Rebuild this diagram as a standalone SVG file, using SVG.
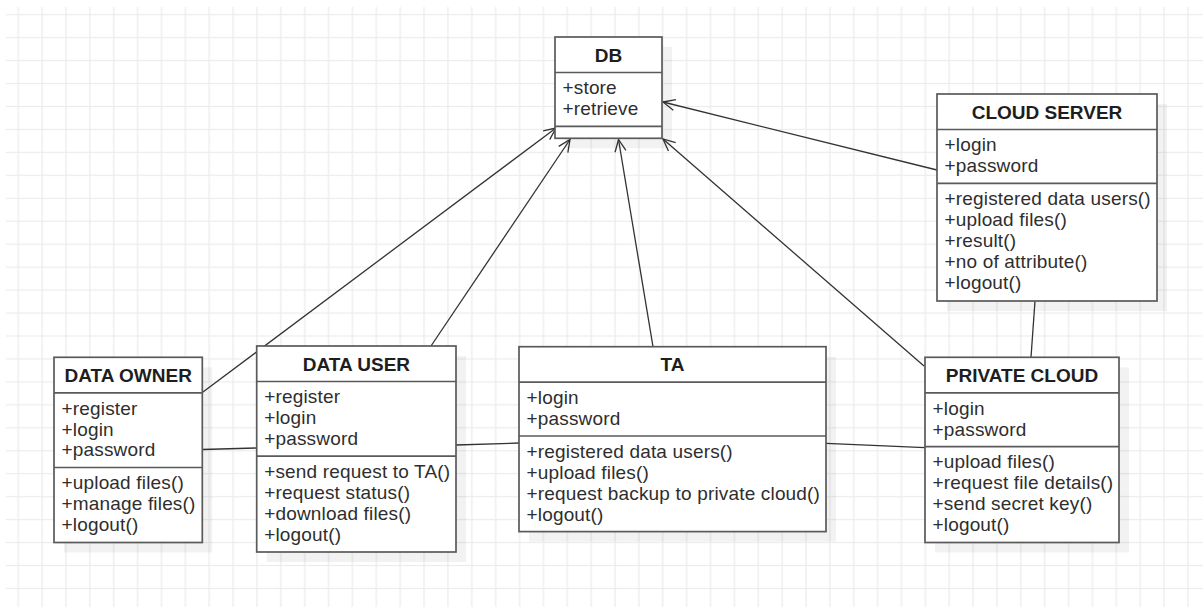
<svg xmlns="http://www.w3.org/2000/svg" width="1203" height="607" viewBox="0 0 1203 607">
<style>
.box{fill:#ffffff;stroke:#5a5a5a;stroke-width:1.7}
.shadow{fill:#000000;fill-opacity:0.05}
.div{stroke:#5a5a5a;stroke-width:1.7}
.t{font-family:"Liberation Sans",Arial,sans-serif;font-size:19px;fill:#2e2e2e;letter-spacing:0.17px}
.h{font-family:"Liberation Sans",Arial,sans-serif;font-size:19px;font-weight:bold;fill:#1e1e1e;text-anchor:middle}
.edge{stroke:#333333;stroke-width:1.3;fill:none}
</style>
<defs>
<pattern id="grid" patternUnits="userSpaceOnUse" x="6.365" y="3.225" width="23.87" height="22.95">
<line x1="11.935" y1="0" x2="11.935" y2="22.95" stroke="#ececec" stroke-width="1.3"/>
<line x1="0" y1="11.475" x2="23.87" y2="11.475" stroke="#ececec" stroke-width="1.3"/>
</pattern>
<marker id="open" markerUnits="userSpaceOnUse" markerWidth="16" markerHeight="16" viewBox="0 0 16 16" refX="14" refY="8" orient="auto">
<path d="M2,2.5 L14,8 L2,13.5" fill="none" stroke="#333333" stroke-width="1.3"/>
</marker>
</defs>
<rect x="0" y="0" width="1203" height="607" fill="#ffffff"/>
<rect x="6" y="7" width="1197" height="600" fill="url(#grid)"/>

<g id="connectors">
<line class="edge" x1="202.3" y1="392.5" x2="556" y2="128" marker-end="url(#open)"/>
<line class="edge" x1="431" y1="346" x2="570" y2="139.5" marker-end="url(#open)"/>
<line class="edge" x1="653" y1="346.7" x2="618.5" y2="139.5" marker-end="url(#open)"/>
<line class="edge" x1="924" y1="366" x2="663" y2="139" marker-end="url(#open)"/>
<line class="edge" x1="937" y1="170" x2="663" y2="102" marker-end="url(#open)"/>
<line class="edge" x1="1035" y1="301" x2="1031" y2="357.3"/>
<line class="edge" x1="202.3" y1="449.5" x2="256.7" y2="448"/>
<line class="edge" x1="456" y1="445" x2="519" y2="443"/>
<line class="edge" x1="826" y1="443.3" x2="925" y2="447.7"/>
</g>

<g id="db">
<rect class="shadow" x="565" y="47" width="107" height="101.3"/>
<rect class="box" x="555" y="37" width="107" height="101.3"/>
<line class="div" x1="555" y1="72.5" x2="662" y2="72.5"/>
<line class="div" x1="555" y1="126.3" x2="662" y2="126.3"/>
<text class="h" x="608.5" y="61.5">DB</text>
<text class="t" x="562.5" y="94.3">+store</text>
<text class="t" x="562.5" y="115.2">+retrieve</text>
</g>

<g id="cloud-server">
<rect class="shadow" x="947" y="104" width="220" height="207"/>
<rect class="box" x="937" y="94" width="220" height="207"/>
<line class="div" x1="937" y1="129.5" x2="1157" y2="129.5"/>
<line class="div" x1="937" y1="183.3" x2="1157" y2="183.3"/>
<text class="h" x="1047" y="118.5">CLOUD SERVER</text>
<text class="t" x="944.5" y="151.3">+login</text>
<text class="t" x="944.5" y="172.2">+password</text>
<text class="t" x="944.5" y="205.1">+registered data users()</text>
<text class="t" x="944.5" y="226">+upload files()</text>
<text class="t" x="944.5" y="246.9">+result()</text>
<text class="t" x="944.5" y="267.8">+no of attribute()</text>
<text class="t" x="944.5" y="288.7">+logout()</text>
</g>

<g id="data-owner">
<rect class="shadow" x="64" y="367.3" width="148.3" height="185.2"/>
<rect class="box" x="54" y="357.3" width="148.3" height="185.2"/>
<line class="div" x1="54" y1="392.8" x2="202.3" y2="392.8"/>
<line class="div" x1="54" y1="467.5" x2="202.3" y2="467.5"/>
<text class="h" x="128.2" y="381.8">DATA OWNER</text>
<text class="t" x="61.5" y="414.6">+register</text>
<text class="t" x="61.5" y="435.5">+login</text>
<text class="t" x="61.5" y="456.4">+password</text>
<text class="t" x="61.5" y="489.3">+upload files()</text>
<text class="t" x="61.5" y="510.2">+manage files()</text>
<text class="t" x="61.5" y="531.1">+logout()</text>
</g>

<g id="data-user">
<rect class="shadow" x="266.7" y="356" width="199.3" height="206"/>
<rect class="box" x="256.7" y="346" width="199.3" height="206"/>
<line class="div" x1="256.7" y1="381.5" x2="456" y2="381.5"/>
<line class="div" x1="256.7" y1="456.2" x2="456" y2="456.2"/>
<text class="h" x="356.4" y="370.5">DATA USER</text>
<text class="t" x="264.2" y="403.3">+register</text>
<text class="t" x="264.2" y="424.2">+login</text>
<text class="t" x="264.2" y="445.1">+password</text>
<text class="t" x="264.2" y="478">+send request to TA()</text>
<text class="t" x="264.2" y="498.9">+request status()</text>
<text class="t" x="264.2" y="519.8">+download files()</text>
<text class="t" x="264.2" y="540.7">+logout()</text>
</g>

<g id="ta">
<rect class="shadow" x="529" y="356.7" width="307" height="184.9"/>
<rect class="box" x="519" y="346.7" width="307" height="184.9"/>
<line class="div" x1="519" y1="382.2" x2="826" y2="382.2"/>
<line class="div" x1="519" y1="436" x2="826" y2="436"/>
<text class="h" x="672.5" y="371.2">TA</text>
<text class="t" x="526.5" y="404">+login</text>
<text class="t" x="526.5" y="424.9">+password</text>
<text class="t" x="526.5" y="457.8">+registered data users()</text>
<text class="t" x="526.5" y="478.7">+upload files()</text>
<text class="t" x="526.5" y="499.6">+request backup to private cloud()</text>
<text class="t" x="526.5" y="520.5">+logout()</text>
</g>

<g id="private-cloud">
<rect class="shadow" x="935" y="367.3" width="194" height="185.2"/>
<rect class="box" x="925" y="357.3" width="194" height="185.2"/>
<line class="div" x1="925" y1="392.8" x2="1119" y2="392.8"/>
<line class="div" x1="925" y1="446.6" x2="1119" y2="446.6"/>
<text class="h" x="1022" y="381.8">PRIVATE CLOUD</text>
<text class="t" x="932.5" y="414.6">+login</text>
<text class="t" x="932.5" y="435.5">+password</text>
<text class="t" x="932.5" y="468.4">+upload files()</text>
<text class="t" x="932.5" y="489.3">+request file details()</text>
<text class="t" x="932.5" y="510.2">+send secret key()</text>
<text class="t" x="932.5" y="531.1">+logout()</text>
</g>
</svg>
